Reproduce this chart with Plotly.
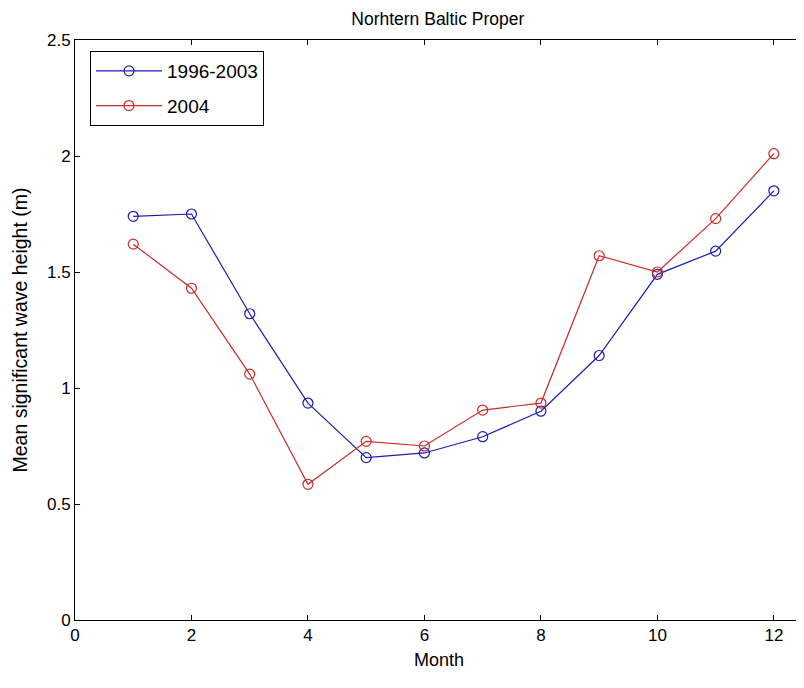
import plotly.graph_objects as go

months = list(range(1, 13))
series_1996_2003 = [1.74, 1.75, 1.32, 0.935, 0.70, 0.72, 0.79, 0.90, 1.14, 1.49, 1.59, 1.85]
series_2004 = [1.62, 1.43, 1.06, 0.585, 0.77, 0.75, 0.905, 0.935, 1.57, 1.50, 1.73, 2.01]
x_ticks = [0, 2, 4, 6, 8, 10, 12]
y_ticks = [0, 0.5, 1, 1.5, 2, 2.5]
y_tick_text = ["0", "0.5", "1", "1.5", "2", "2.5"]

font_family = "Liberation Sans, Arial, sans-serif"

fig = go.Figure()
fig.add_trace(go.Scatter(
    x=months, y=series_1996_2003, name="1996-2003", mode="lines+markers",
    legendgroup="a",
    line=dict(color="#1c1cb0", width=1.2),
    marker=dict(symbol="circle-open", size=10, color="#1c1cb0", line=dict(width=1.2)),
))
fig.add_trace(go.Scatter(
    x=months, y=series_2004, name="2004", mode="lines+markers",
    legendgroup="b",
    line=dict(color="#cc2a2a", width=1.2),
    marker=dict(symbol="circle-open", size=10, color="#cc2a2a", line=dict(width=1.2)),
))

axis_common = dict(
    showline=True, linecolor="black", linewidth=1, mirror="ticks",
    ticks="inside", ticklen=5, tickcolor="black", showgrid=False, zeroline=False,
    tickfont=dict(size=17, color="black", family=font_family),
)

fig.update_layout(
    width=796, height=680,
    margin=dict(l=67, r=1, t=32, b=68),
    paper_bgcolor="white", plot_bgcolor="white",
    font=dict(family=font_family, color="black"),
    title=dict(text="Norhtern Baltic Proper", x=0.540, xanchor="center", y=0.993, yanchor="top",
               pad=dict(t=0, b=0),
               font=dict(size=17.5, color="black", family=font_family)),
    xaxis=dict(range=[0, 12.5], tickvals=x_ticks,
               title=dict(text="Month", font=dict(size=18), standoff=8), **axis_common),
    yaxis=dict(range=[0, 2.5], tickvals=y_ticks, ticktext=y_tick_text,
               title=dict(text="Mean significant wave height (m)", font=dict(size=19.5), standoff=14),
               **axis_common),
    legend=dict(x=0.0206, y=0.981, xanchor="left", yanchor="top",
                bordercolor="black", borderwidth=1, bgcolor="white",
                font=dict(size=19, color="black", family=font_family),
                traceorder="grouped", tracegroupgap=7, itemwidth=66),
    showlegend=True,
)

fig.write_html("out.html")
